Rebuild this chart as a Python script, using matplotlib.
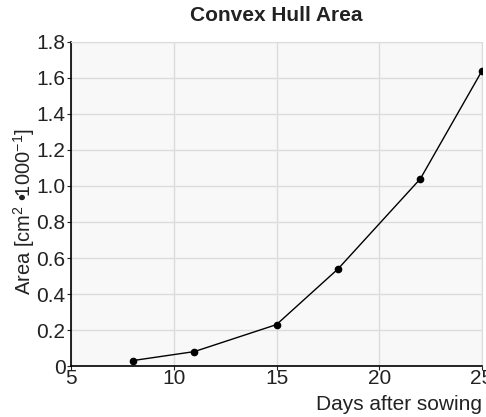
import matplotlib.pyplot as plt

plt.rcParams['font.family'] = ['Liberation Sans', 'DejaVu Sans']
plt.rcParams['mathtext.fontset'] = 'custom'
plt.rcParams['mathtext.rm'] = 'Liberation Sans'
plt.rcParams['mathtext.it'] = 'Liberation Sans:italic'
plt.rcParams['mathtext.bf'] = 'Liberation Sans:bold'

# === DATA ===
days = [8, 11, 15, 18, 22, 25]
area = [0.03, 0.08, 0.23, 0.54, 1.04, 1.64]
x_ticks = [5, 10, 15, 20, 25]
y_ticks = [0, 0.2, 0.4, 0.6, 0.8, 1.0, 1.2, 1.4, 1.6, 1.8]
y_labels = ['0', '0.2', '0.4', '0.6', '0.8', '1.0', '1.2', '1.4', '1.6', '1.8']

fig = plt.figure(figsize=(4.86, 4.17), dpi=100)
ax = fig.add_axes([71/486, 1 - 366/417, (482 - 71)/486, (366 - 42)/417])
ax.set_facecolor('#f8f8f8')

ax.plot(days, area, color='black', lw=1, marker='o', ms=4.5, zorder=3)

ax.set_xlim(5, 25)
ax.set_ylim(0, 1.8)
ax.set_xticks(x_ticks)
ax.set_yticks(y_ticks)
ax.set_yticklabels(y_labels)
ax.grid(color='#dcdcdc', lw=1)
ax.set_axisbelow(True)

for s in ['top', 'right']:
    ax.spines[s].set_color('#dcdcdc')
for s in ['left', 'bottom']:
    ax.spines[s].set_color('black')
    ax.spines[s].set_linewidth(1.2)

ax.tick_params(direction='out', length=3, labelsize=15, colors='#222222', pad=1)
ax.tick_params(axis='x', pad=-1)

ax.set_title('Convex Hull Area', fontsize=15, fontweight='bold', color='#222222', pad=15)
ax.set_xlabel('Days after sowing', fontsize=15, color='#222222', loc='right', labelpad=5)
ax.set_ylabel('Area [cm$^2$ \u2022$\\!$1000$^{-1}$]', fontsize=14.5, color='#222222')
ax.yaxis.set_label_coords(-0.083, 0.475)

fig.savefig('out.png', dpi=100)
